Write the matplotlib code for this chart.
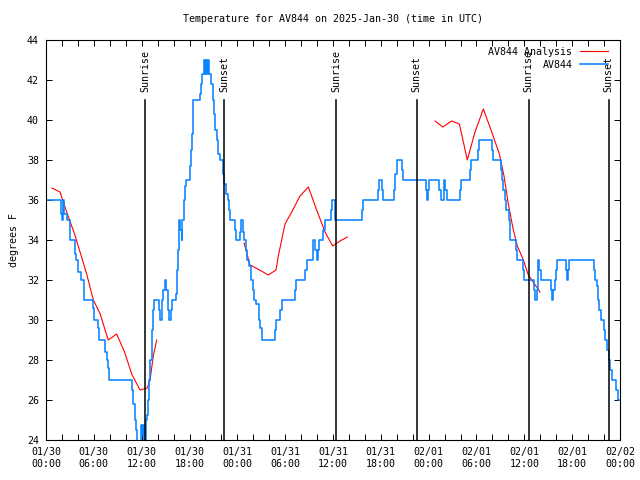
import numpy as np
import matplotlib
matplotlib.use("Agg")
import matplotlib.pyplot as plt
from matplotlib.ticker import MultipleLocator

# hours since 2025-01-30 00:00 UTC
obs_hours = [0.0, 1.84, 1.95, 2.10, 2.20, 2.59, 2.97, 3.60, 3.76, 4.05, 4.35, 4.72,
             5.85, 6.02, 6.50, 6.61, 7.44, 7.61, 7.80, 7.94, 10.79, 10.95, 11.12,
             11.29, 11.46, 11.88, 12.04, 12.21, 12.29, 12.50, 12.70, 12.80, 12.95,
             13.10, 13.25, 13.38, 13.50, 14.13, 14.25, 14.50, 14.70, 14.88, 15.05,
             15.25, 15.47, 15.65, 15.85, 16.31, 16.47, 16.60, 16.70, 16.85, 17.00,
             17.10, 17.25, 17.40, 17.55, 18.06, 18.15, 18.30, 18.48, 19.32, 19.50,
             19.60, 19.82, 20.00, 20.10, 20.25, 20.35, 20.50, 20.66, 20.90, 21.05,
             21.24, 21.40, 21.55, 21.83, 22.20, 22.35, 22.55, 22.83, 22.95, 23.08,
             23.71, 23.85, 24.34, 24.50, 24.65, 24.80, 25.05, 25.25, 25.50, 25.75,
             25.92, 26.05, 26.40, 26.70, 26.90, 27.09, 28.69, 28.85, 29.40, 29.55,
             31.20, 31.36, 32.45, 32.70, 33.45, 33.55, 33.71, 33.95, 34.10, 34.21,
             34.80, 34.96, 35.71, 35.85, 36.30, 39.64, 39.75, 41.69, 41.80, 42.15,
             42.30, 43.69, 43.80, 43.98, 44.66, 44.80, 47.67, 47.83, 47.95, 48.10,
             49.34, 49.50, 49.90, 50.05, 50.26, 51.93, 52.01, 53.19, 53.30, 54.23,
             54.35, 55.95, 56.05, 57.03, 57.20, 57.37, 57.55, 57.70, 58.04, 58.20,
             58.96, 59.05, 59.88, 60.00, 61.21, 61.30, 61.63, 61.75, 61.90, 62.05,
             63.39, 63.50, 63.60, 63.81, 63.95, 64.06, 65.23, 65.35, 65.45, 65.65,
             68.74, 68.90, 69.08, 69.20, 69.33, 69.58, 69.99, 70.15, 70.40, 70.60,
             70.75, 71.00, 71.50, 71.75, 72.0]
obs_temp = [36.0, 35.3, 35.0, 36.0, 35.3, 35.0, 34.0, 33.3, 33.0, 32.4, 32.0, 31.0,
            30.6, 30.0, 29.6, 29.0, 28.4, 28.0, 27.6, 27.0, 26.5, 25.8, 25.0,
            24.5, 23.5, 24.75, 24.2, 24.75, 23.5, 25.0, 25.25, 26.0, 27.0,
            28.0, 29.5, 30.5, 31.0, 30.5, 30.0, 31.0, 31.5, 32.0, 31.5,
            30.5, 30.0, 30.5, 31.0, 31.3, 32.5, 33.5, 35.0, 34.5, 34.0,
            35.0, 36.0, 36.7, 37.0, 37.7, 38.5, 39.3, 41.0, 41.3, 41.8,
            42.3, 43.0, 42.3, 43.0, 42.3, 43.0, 42.3, 41.8, 41.0, 40.3,
            39.5, 39.0, 38.3, 38.0, 37.3, 36.8, 36.3, 36.0, 35.5, 35.0,
            34.5, 34.0, 34.4, 35.0, 34.4, 34.0, 33.5, 33.0, 32.7, 32.0,
            31.5, 31.0, 30.8, 30.0, 29.6, 29.0, 29.5, 30.0, 30.5, 31.0,
            31.5, 32.0, 32.5, 33.0, 33.5, 34.0, 33.5, 33.0, 33.5, 34.0,
            34.5, 35.0, 35.5, 36.0, 35.0, 35.5, 36.0, 36.5, 37.0, 36.5,
            36.0, 36.5, 37.3, 38.0, 37.5, 37.0, 36.5, 36.0, 36.5, 37.0,
            36.5, 36.0, 37.0, 36.5, 36.0, 36.5, 37.0, 37.5, 38.0, 38.5,
            39.0, 38.5, 38.0, 37.5, 37.0, 36.5, 36.0, 35.5, 35.0, 34.0,
            33.5, 33.0, 32.5, 32.0, 31.5, 31.0, 31.5, 33.0, 32.5, 32.0,
            31.5, 31.0, 31.5, 32.0, 32.5, 33.0, 32.5, 32.0, 32.5, 33.0,
            32.5, 32.0, 31.7, 31.0, 30.5, 30.0, 29.5, 29.0, 28.5, 28.0,
            27.5, 27.0, 26.5, 26.0, 26.0]

# analysis, three runs separated by gaps
ana_hours = [0.75, 1.76, 2.0, 2.68, 3.5, 4.35, 5.1, 5.94, 6.8, 7.8, 8.86, 9.85,
             10.75, 11.79, 12.7, 13.05, 13.46, 13.88, np.nan,
             24.84, 25.59, 26.43, 27.89, 28.85, 29.14, 29.56, 29.98, 30.82, 31.86,
             32.91, 33.95, 35.0, 35.96, 36.88, 37.8, np.nan,
             48.8, 49.76, 50.89, 51.85, 52.85, 53.81, 54.86, 55.91, 56.87, 57.45,
             57.99, 58.62, 59.12, 59.88, 60.5, 61.97]
ana_temp = [36.6, 36.4, 36.1, 35.3, 34.4, 33.3, 32.3, 31.0, 30.3, 29.0, 29.3, 28.4,
            27.3, 26.5, 26.6, 27.0, 28.2, 29.0, np.nan,
            33.85, 32.75, 32.58, 32.25, 32.5, 33.2, 34.0, 34.8, 35.4, 36.2,
            36.65, 35.5, 34.4, 33.7, 33.95, 34.15, np.nan,
            39.95, 39.65, 39.95, 39.8, 38.0, 39.4, 40.55, 39.4, 38.3, 37.2,
            35.8, 34.5, 33.7, 33.0, 32.25, 31.4]

sun_hours = [12.46, 22.33, 36.38, 46.5, 60.55, 70.58]
sun_names = ["Sunrise", "Sunset", "Sunrise", "Sunset", "Sunrise", "Sunset"]

tick_labels = ["01/30\n00:00", "01/30\n06:00", "01/30\n12:00", "01/30\n18:00",
               "01/31\n00:00", "01/31\n06:00", "01/31\n12:00", "01/31\n18:00",
               "02/01\n00:00", "02/01\n06:00", "02/01\n12:00", "02/01\n18:00",
               "02/02\n00:00"]

plt.rcParams['font.family'] = ['DejaVu Sans Mono']
fs = 7.2

fig = plt.figure(figsize=(6.4, 4.8), dpi=100)
ax = fig.add_axes([46/640, 40/480, 574/640, 400/480])

ax.plot(ana_hours, ana_temp, color='#ff0000', lw=0.8, label='AV844 Analysis')
ax.plot(obs_hours, obs_temp, color='#0a84ff', lw=1.15, drawstyle='steps-post',
        label='AV844')

for h, name in zip(sun_hours, sun_names):
    ax.plot([h, h], [24, 41], color='black', lw=1.1)
    ax.text(h, 41.4, name, rotation=90, ha='center', va='bottom', fontsize=fs)

ax.set_xlim(0, 72)
ax.set_ylim(24, 44)
ax.set_xticks(np.arange(0, 73, 6))
ax.set_xticklabels(tick_labels, fontsize=fs)
ax.xaxis.set_minor_locator(MultipleLocator(2))
ax.set_yticks(np.arange(24, 45, 2))
ax.tick_params(axis='y', labelsize=fs)
ax.tick_params(which='both', direction='in', top=True, right=True,
               length=4, width=0.7, pad=5)
for s in ax.spines.values():
    s.set_linewidth(0.8)

ax.set_ylabel('degrees F', fontsize=fs, labelpad=6)
fig.text(333/640, 1 - 19/480, 'Temperature for AV844 on 2025-Jan-30 (time in UTC)',
         ha='center', va='center', fontsize=fs)

ax.legend(loc='upper right', bbox_to_anchor=(0.992, 1.0), frameon=False,
          markerfirst=False, fontsize=fs, handlelength=2.8, handletextpad=0.8,
          labelspacing=0.3, borderaxespad=0.3)

plt.savefig('out.png', dpi=100)
